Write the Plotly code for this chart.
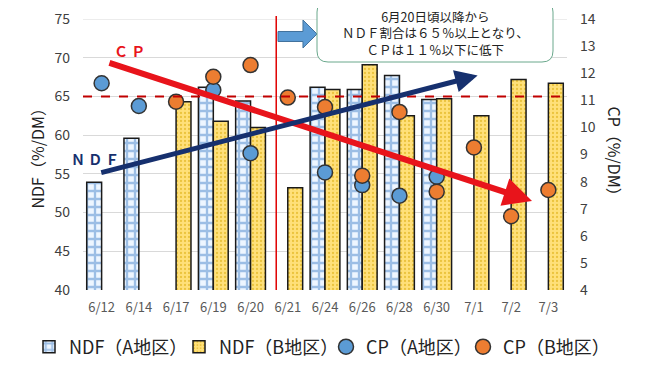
import plotly.graph_objects as go

categories = ["6/12", "6/14", "6/17", "6/19", "6/20", "6/21", "6/24", "6/26", "6/28", "6/30", "7/1", "7/2", "7/3"]
ndf_a = [53.9, 59.6, None, 66.2, 64.4, None, 66.2, 65.9, 67.7, 64.6, None, None, None]
ndf_b = [None, None, 64.3, 61.8, 61.0, 53.2, 65.9, 69.1, 62.5, 64.7, 62.5, 67.2, 66.7]
cp_a = [11.63, 10.79, None, 11.38, 9.05, None, 8.34, 7.87, 7.48, 8.18, None, None, None]
cp_b = [None, None, 10.95, 11.87, 12.30, 11.10, 10.75, 8.22, 10.57, 7.63, 9.26, 6.72, 7.69]

FONT = "Noto Sans CJK JP"
OFF = 8                      # page body margin of the html page
L, R, T, B = 83, 567, 19, 290  # plot area in page pixels
W, H = 650 - OFF, 365 - OFF


def px(x):
    return (x - L) / (R - L)


def py(y):
    return (B - y) / (B - T)


fig = go.Figure()
fig.add_trace(go.Bar(
    x=categories, y=ndf_a, name="NDF（A地区）", yaxis="y", legend="legend", showlegend=True,
    marker=dict(color="#eef6ff", line=dict(color="#1a1a1a", width=1.5),
                pattern=dict(shape="+", fgcolor="#4a86cc", bgcolor="#eef6ff", size=8, solidity=0.5)),
))
fig.add_trace(go.Bar(
    x=categories, y=ndf_b, name="NDF（B地区）", yaxis="y", legend="legend2", showlegend=True,
    marker=dict(color="#ffe07a", line=dict(color="#1a1a1a", width=1.5),
                pattern=dict(shape=".", fgcolor="#d6a500", bgcolor="#ffe07a", size=4, solidity=0.25)),
))
fig.add_trace(go.Scatter(
    x=categories, y=cp_a, name="CP（A地区）", yaxis="y2", mode="markers", legend="legend3",
    showlegend=True,
    marker=dict(size=15, color="#5b9bd5", line=dict(color="#333333", width=1.5)),
))
fig.add_trace(go.Scatter(
    x=categories, y=cp_b, name="CP（B地区）", yaxis="y2", mode="markers", legend="legend4",
    showlegend=True,
    marker=dict(size=15, color="#ed7d31", line=dict(color="#333333", width=1.5)),
))

shapes = []
# top gridline (plotly drops gridlines lying on the plot edge)
shapes.append(dict(type="line", xref="paper", yref="y", x0=0, x1=1, y0=75, y1=75,
                   line=dict(color="#d9d9d9", width=1), layer="below"))
shapes.append(dict(type="line", xref="paper", yref="y", x0=0, x1=1, y0=65, y1=65,
                   line=dict(color="#c00000", width=2, dash="dash"), layer="above"))
shapes.append(dict(type="line", xref="x", yref="paper", x0=4.69, x1=4.69, y0=0, y1=py(16),
                   line=dict(color="#e00000", width=1.5), layer="above"))
pts = [(278, 31.5), (303, 31.5), (303, 20), (317, 34), (303, 48), (303, 41.5), (278, 41.5)]
path = "M " + " L ".join(f"{px(a):.4f},{py(b):.4f}" for a, b in pts) + " Z"
shapes.append(dict(type="path", xref="paper", yref="paper", path=path,
                   fillcolor="#5b9bd5", line=dict(color="#41719c", width=1), layer="above"))
x0, x1, y0, y1, r = 317, 553, 1, 62, 11


def P(a, b):
    return f"{px(a):.4f},{py(b):.4f}"


box = (f"M {P(x0 + r, y0)} L {P(x1 - r, y0)} Q {P(x1, y0)} {P(x1, y0 + r)} "
       f"L {P(x1, y1 - r)} Q {P(x1, y1)} {P(x1 - r, y1)} L {P(x0 + r, y1)} "
       f"Q {P(x0, y1)} {P(x0, y1 - r)} L {P(x0, y0 + r)} Q {P(x0, y0)} {P(x0 + r, y0)} Z")
shapes.append(dict(type="path", xref="paper", yref="paper", path=box,
                   fillcolor="white", line=dict(color="#6aa88c", width=1), layer="above"))

annotations = [
    dict(xref="paper", yref="paper", x=px(435), y=py(33), xanchor="center", yanchor="middle",
         showarrow=False,
         text="6月20日頃以降から<br>ＮＤＦ割合は６５％以上となり、<br>ＣＰは１１％以下に低下",
         font=dict(family=FONT, size=12.5, color="#222222"), align="center"),
    dict(xref="x", yref="y", axref="x", ayref="y", x=11.56, y=51.5, ax=0.17, ay=69.4,
         text="", showarrow=True, arrowhead=2, arrowsize=0.95, arrowwidth=6,
         arrowcolor="#e8141b", standoff=0, startstandoff=0),
    dict(xref="x", yref="y", axref="x", ayref="y", x=10.1, y=67.7, ax=-0.05, ay=55.1,
         text="", showarrow=True, arrowhead=2, arrowsize=0.9, arrowwidth=5,
         arrowcolor="#16306e", standoff=0, startstandoff=0),
    dict(xref="paper", yref="paper", x=px(129), y=py(51), xanchor="center", yanchor="middle",
         showarrow=False, text="<b>Ｃ Ｐ</b>", font=dict(family=FONT, size=14, color="#e8141b")),
    dict(xref="paper", yref="paper", x=px(95), y=py(159), xanchor="center", yanchor="middle",
         showarrow=False, text="<b>Ｎ Ｄ Ｆ</b>", font=dict(family=FONT, size=14, color="#16306e")),
    dict(xref="paper", yref="paper", x=px(36), y=0.5, xanchor="center", yanchor="middle",
         showarrow=False, textangle=-90,
         text="NDF（%/DM）", font=dict(family=FONT, size=16, color="#222222")),
    dict(xref="paper", yref="paper", x=px(615), y=0.5, xanchor="center", yanchor="middle",
         showarrow=False, textangle=90,
         text="CP（%/DM）", font=dict(family=FONT, size=16, color="#222222")),
]


def leg(xpix):
    return dict(orientation="h", x=px(xpix), xanchor="left", y=py(347), yanchor="middle",
                font=dict(size=18, color="#222222", family=FONT), itemwidth=30,
                bgcolor="rgba(0,0,0,0)", visible=True)


fig.update_layout(
    width=W, height=H, showlegend=True,
    margin=dict(l=L - OFF, r=W - (R - OFF), t=T - OFF, b=H - (B - OFF), autoexpand=False),
    paper_bgcolor="white", plot_bgcolor="white",
    font=dict(family=FONT, color="#595959"),
    barmode="group", bargap=0.2, bargroupgap=0,
    xaxis=dict(type="category", categoryorder="array", categoryarray=categories,
               range=[-0.5, len(categories) - 0.5], showgrid=False, showline=False,
               ticks="", tickfont=dict(size=13, color="#595959", family=FONT), ticklabelstandoff=8),
    yaxis=dict(range=[40, 75], dtick=5, showgrid=True, gridcolor="#d9d9d9", gridwidth=1,
               zeroline=False, showline=False, ticks="", ticklabeloverflow="allow",
               tickfont=dict(size=14, color="#404040", family=FONT), ticklabelstandoff=12),
    yaxis2=dict(range=[4, 14], dtick=1, overlaying="y", side="right", showgrid=False,
                zeroline=False, showline=False, ticks="", ticklabeloverflow="allow",
                tickfont=dict(size=14, color="#404040", family=FONT), ticklabelstandoff=12),
    legend=leg(29),
    legend2=leg(179),
    legend3=leg(326),
    legend4=leg(463),
    shapes=shapes,
    annotations=annotations,
)

fig.write_html("out.html")
